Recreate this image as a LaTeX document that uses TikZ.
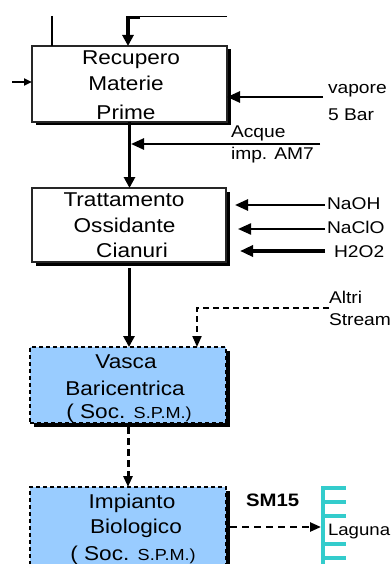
\documentclass[tikz,border=0pt]{standalone}
\usepackage{fontspec}
\setmainfont{Liberation Sans}[FakeStretch=1.13]
\usetikzlibrary{arrows.meta,shadows,calc}
\definecolor{tankblue}{RGB}{153,204,255}
\definecolor{lagoon}{RGB}{51,204,204}

\begin{document}
\begin{tikzpicture}[x=1pt,y=-1pt,
  every node/.style={inner sep=0pt, outer sep=0pt},
  boxshadow/.style={drop shadow={shadow xshift=3.5pt, shadow yshift=-3.5pt, fill=black, opacity=1}},
  procbox/.style={draw=black!85, line width=1.1pt, fill=white, boxshadow},
  tankbox/.style={draw=black, line width=1.8pt, dash pattern=on 4pt off 3pt, fill=tankblue, boxshadow},
  mainlbl/.style={font=\fontsize{20}{24}\selectfont, anchor=base},
  sidelbl/.style={font=\fontsize{17}{20}\selectfont, anchor=base west},
  mainflow/.style={line width=3.5pt, line join=miter, -{Triangle[length=11pt,width=11pt]}},
  sideflow/.style={line width=2.6pt, -{Triangle[length=13pt,width=11pt]}},
  dashflow/.style={line width=2pt, dash pattern=on 6pt off 4pt, -{Triangle[length=11pt,width=9pt]}},
  shoreline/.style={draw=lagoon, line width=3.2pt}]

\clip (0,0) rectangle (391,564);

% process boxes
\node[procbox, minimum width=195pt, minimum height=76pt] (rec) at (129.5,84) {};
\node[procbox, minimum width=194pt, minimum height=74pt] (ox) at (129,225) {};
\node[tankbox, minimum width=196pt, minimum height=76pt] (vasca) at (128,385) {};
\node[tankbox, minimum width=196pt, minimum height=80pt] (bio) at (128,527) {};

% box texts
\node[mainlbl] (rec1) at (131,65) {Recupero};
\node[mainlbl] (rec2) at (126,91) {Materie};
\node[mainlbl] (rec3) at (126,120) {Prime};
\node[mainlbl] (ox1) at (124,206) {Trattamento};
\node[mainlbl] (ox2) at (124.5,232) {Ossidante};
\node[mainlbl] (ox3) at (132,257) {Cianuri};
\node[mainlbl] (va1) at (126,368) {Vasca};
\node[mainlbl] (va2) at (125,395) {Baricentrica};
\node[mainlbl] (va3) at (129,418) {( Soc. {\fontsize{16}{18}\selectfont S.P.M.)}};
\node[mainlbl] (bi1) at (132,508) {Impianto};
\node[mainlbl] (bi2) at (136,533) {Biologico};
\node[mainlbl] (bi3) at (133,560) {( Soc. {\fontsize{16}{18}\selectfont S.P.M.)}};

% side texts
\node[sidelbl] (vap1) at (328,94) {vapore};
\node[sidelbl] (vap2) at (328,121) {5 Bar};
\node[sidelbl] (acq1) at (231,138) {Acque};
\node[sidelbl] (acq2) at (231,160) {imp. AM7};
\node[sidelbl] (naoh) at (327,209) {NaOH};
\node[sidelbl] (naclo) at (327,233) {NaClO};
\node[sidelbl] (hoo) at (334,257) {H2O2};
\node[sidelbl] (alt1) at (329,303) {Altri};
\node[sidelbl] (alt2) at (329,325) {Stream};
\node[font=\bfseries\fontsize{18}{20}\selectfont, anchor=base west] (sm) at (246,506) {SM15};
\node[font=\fontsize{16.5}{20}\selectfont, anchor=base west] (lag) at (328,535) {Laguna};

% feeds at the top
\coordinate (topR) at (227,16.5);
\coordinate (feedcorner) at (128,17.5);
\coordinate (lt) at (52,16);
\draw[line width=1.2pt] (topR) -- (feedcorner |- topR);
\draw[mainflow] ($(feedcorner)+(12,0)$) -- (feedcorner) -- (feedcorner |- rec.north);
\draw[line width=1.2pt] (lt) -- (lt |- rec.north);

% left inlet
\coordinate (lin) at (12,82);
\draw[line width=2.4pt, -{Triangle[length=8pt,width=7pt]}] (lin) -- (lin -| rec.west);

% steam and process water
\coordinate (vap) at (323,97);
\draw[sideflow] (vap) -- (vap -| rec.east);
\coordinate (acq) at (320,144);
\coordinate (acqin) at (131,144);
\draw[sideflow] (acq) -- (acqin);

% main line
\draw[mainflow] (rec.south) -- (rec.south |- ox.north);

% reagents
\coordinate (naohR) at (325,205);
\coordinate (naohL) at (235,205);
\coordinate (nacloR) at (325,229);
\coordinate (nacloL) at (238,229);
\coordinate (hooR) at (325,251);
\coordinate (hooL) at (240,251);
\draw[sideflow] (naohR) -- (naohL);
\draw[sideflow, line width=2.2pt] (nacloR) -- (nacloL);
\draw[sideflow, line width=3.2pt] (hooR) -- (hooL);

% to the equalisation tank
\draw[mainflow, line width=3pt] ([yshift=-6pt]ox.south) -- (ox.south |- vasca.north);
\coordinate (altri) at (329,308);
\coordinate (altrik) at (197,308);
\draw[dashflow] (altri) -- (altrik) -- (altrik |- vasca.north);

% to the biological plant
\draw[dashflow, line width=3pt, dash pattern=on 7pt off 4pt] ([yshift=-4pt]vasca.south) -- (bio.north);

% discharge to the lagoon
\coordinate (lagin) at (321,527);
\draw[dashflow, line width=2.4pt, dash pattern=on 7pt off 5pt] ([xshift=4pt]bio.east) -- (lagin);
\draw[shoreline] (323,486) -- (323,570);
\foreach \ty in {488,502,516,544,558}
  \draw[shoreline] (323,\ty) -- (346,\ty);

\end{tikzpicture}
\end{document}
